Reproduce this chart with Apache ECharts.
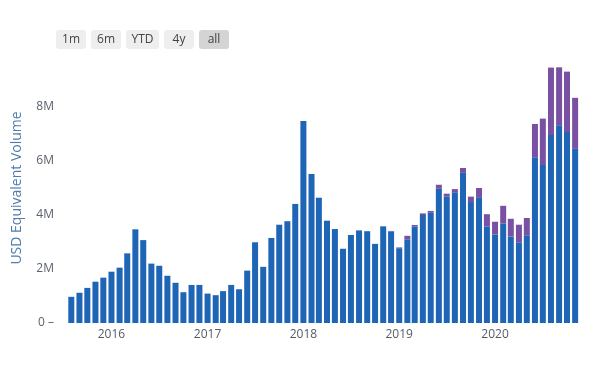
<!DOCTYPE html>
<html>
<head>
<meta charset="utf-8">
<script src="https://cdn.jsdelivr.net/npm/echarts@6/dist/echarts.min.js"></script>
<style>
html,body{margin:0;padding:0;background:#fff;}
#chart{width:606px;height:371px;}
</style>
</head>
<body>
<div id="chart"></div>
<script>
// Monthly periods (bar centred on first of month)
const months = [
 '2015-08-01','2015-09-01','2015-10-01','2015-11-01','2015-12-01',
 '2016-01-01','2016-02-01','2016-03-01','2016-04-01','2016-05-01','2016-06-01','2016-07-01','2016-08-01','2016-09-01','2016-10-01','2016-11-01','2016-12-01',
 '2017-01-01','2017-02-01','2017-03-01','2017-04-01','2017-05-01','2017-06-01','2017-07-01','2017-08-01','2017-09-01','2017-10-01','2017-11-01','2017-12-01',
 '2018-01-01','2018-02-01','2018-03-01','2018-04-01','2018-05-01','2018-06-01','2018-07-01','2018-08-01','2018-09-01','2018-10-01','2018-11-01','2018-12-01',
 '2019-01-01','2019-02-01','2019-03-01','2019-04-01','2019-05-01','2019-06-01','2019-07-01','2019-08-01','2019-09-01','2019-10-01','2019-11-01','2019-12-01',
 '2020-01-01','2020-02-01','2020-03-01','2020-04-01','2020-05-01','2020-06-01','2020-07-01','2020-08-01','2020-09-01','2020-10-01','2020-11-01'
];
// Blue series (millions USD)
const blueValues = [
 0.97,1.12,1.30,1.53,1.68,
 1.90,2.05,2.58,3.47,3.07,2.20,2.12,1.75,1.49,1.14,1.41,1.41,
 1.09,1.03,1.18,1.41,1.25,1.94,2.99,2.08,3.15,3.64,3.77,4.41,
 7.48,5.52,4.64,3.79,3.48,2.75,3.26,3.43,3.40,2.93,3.58,3.38,
 2.77,3.10,3.58,4.00,4.10,4.97,4.69,4.84,5.58,4.48,4.66,3.58,
 3.28,3.69,3.20,2.99,3.25,6.14,5.85,6.96,7.32,7.07,6.47
];
// Purple series (millions USD)
const purpleValues = [
 0,0,0,0,0,
 0,0,0,0,0,0,0,0,0,0,0,0,
 0,0,0,0,0,0,0,0,0,0,0,0,
 0,0,0,0,0,0,0,0,0,0,0,0.03,
 0.03,0.13,0.05,0.06,0.05,0.15,0.10,0.12,0.16,0.20,0.34,0.45,
 0.47,0.65,0.66,0.65,0.64,1.23,1.72,2.50,2.15,2.24,1.87
];
const buttonLabels = ['1m','6m','YTD','4y','all'];
const activeButton = 'all';

const M = 1e6;
const blueData = months.map((m,i)=>[m, blueValues[i]*M]);
const purpleData = months.map((m,i)=>[m, purpleValues[i]*M]);

const FONT = '"Open Sans", "Noto Sans", sans-serif';
const chart = echarts.init(document.getElementById('chart'), null, {renderer:'canvas'});

// range selector buttons
const btnX = [56, 91, 126, 164, 199];
const btnW = [30, 30, 33, 30, 30];
const graphics = [];
buttonLabels.forEach((lab, i) => {
  graphics.push({
    type:'group', left: btnX[i], top: 30,
    children:[
      {type:'rect', shape:{x:0,y:0,width:btnW[i],height:19,r:3},
       style:{fill: lab===activeButton ? '#d4d4d4' : '#eeeeee'}},
      {type:'text', x: btnW[i]/2, y: 9.5,
       style:{text: lab, fill:'#444', font:'12px '+FONT, align:'center', verticalAlign:'middle'}}
    ]
  });
});

chart.setOption({
  animation:false,
  grid:{left:62, right:20, top:53, bottom:48, containLabel:false},
  xAxis:{
    type:'time',
    min:'2015-07-08', max:'2020-12-01',
    axisLine:{show:false},
    axisTick:{show:false},
    splitLine:{show:false},
    axisLabel:{
      formatter:{year:'{yyyy}', month:'', day:'', hour:'', minute:'', second:'', millisecond:''},
      color:'#555b66', fontFamily:FONT, fontSize:12, margin:6
    }
  },
  yAxis:{
    type:'value', min:0, max:10*M, interval:2*M,
    name:'USD Equivalent Volume', nameLocation:'middle', nameGap:38,
    nameTextStyle:{color:'#4f7cac', fontFamily:FONT, fontSize:14},
    axisLine:{show:false},
    axisTick:{show:false},
    splitLine:{show:false},
    axisLabel:{
      formatter: v => (v % (2*M) === 0 && v < 10*M) ? (v===0 ? '0 \u2013' : (v/M)+'M') : '',
      color:'#5a626d', fontFamily:FONT, fontSize:12, margin:8
    }
  },
  series:[
    {type:'bar', stack:'vol', data:blueData, barWidth:6,
     itemStyle:{color:'#1f65b5'}},
    {type:'bar', stack:'vol', data:purpleData, barWidth:6,
     itemStyle:{color:'#7a50a2'}}
  ],
  graphic: graphics
});
</script>
</body>
</html>
